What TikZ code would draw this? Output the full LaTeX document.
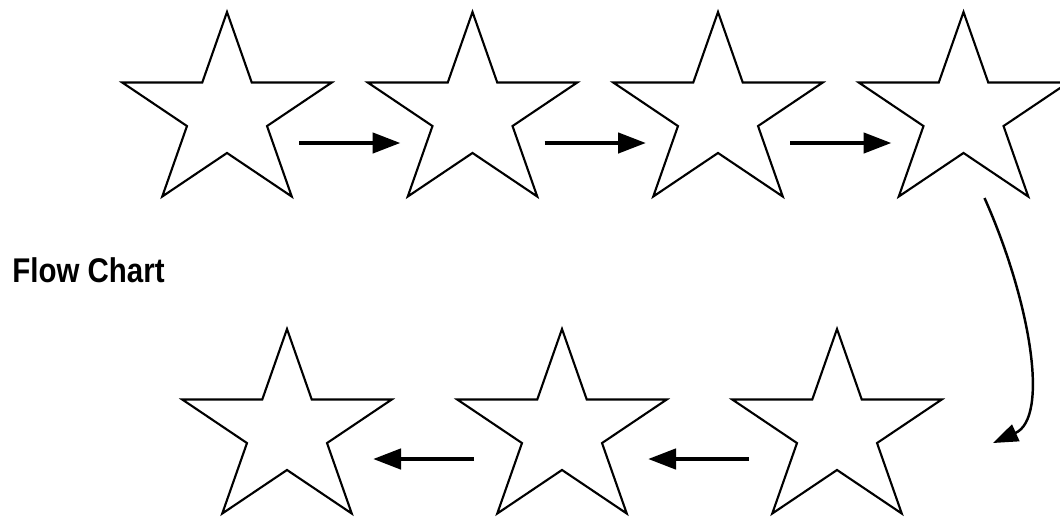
\documentclass[tikz,border=0pt]{standalone}
\usepackage{fontspec}
\setmainfont{Liberation Sans}
\usepackage{graphicx}
\usetikzlibrary{shapes.geometric, arrows.meta, positioning}

\begin{document}
\begin{tikzpicture}[
    on grid,
    node distance=4.91cm,
    starbox/.style={star, star points=5, star point ratio=2.618, draw, line width=1.2pt,
                    minimum size=4.08cm, inner sep=0pt, xscale=1.08, transform shape},
    arr/.style={-{Triangle[length=0.56cm, width=0.4cm]}, line width=2.6pt},
    curvearr/.style={-{Triangle[length=0.5cm, width=0.36cm]}, line width=1.4pt},
]
    \useasboundingbox (0,0) rectangle (21.2,-10.36);

    % top row, left to right
    \node[starbox] (s1) at (4.54,-2.28) {};
    \node[starbox, right=of s1] (s2) {};
    \node[starbox, right=of s2] (s3) {};
    \node[starbox, right=of s3] (s4) {};

    % bottom row, right to left
    \node[starbox] (s5) at (16.74,-8.62) {};
    \node[starbox, left=5.5cm of s5] (s6) {};
    \node[starbox, left=5.5cm of s6] (s7) {};

    \node[anchor=base west, inner sep=0pt, font=\fontsize{19.5}{19.5}\selectfont\bfseries]
        (title) at (0.24,-5.64) {\scalebox{0.86}[1]{Flow Chart}};

    \foreach \a/\b in {s1/s2, s2/s3, s3/s4}
        \draw[arr] ([shift={(1.44,-0.58)}]\a.center) -- ([shift={(-1.44,-0.58)}]\b.center);
    \foreach \a/\b in {s5/s6, s6/s7}
        \draw[arr] ([shift={(-1.76,-0.56)}]\a.center) -- ([shift={(1.72,-0.56)}]\b.center);

    \draw[curvearr] ([shift={(0.42,-1.68)}]s4.center)
        .. controls (20.6,-6.0) and (21.0,-8.35) .. ([shift={(3.12,-0.24)}]s5.center);
\end{tikzpicture}
\end{document}
